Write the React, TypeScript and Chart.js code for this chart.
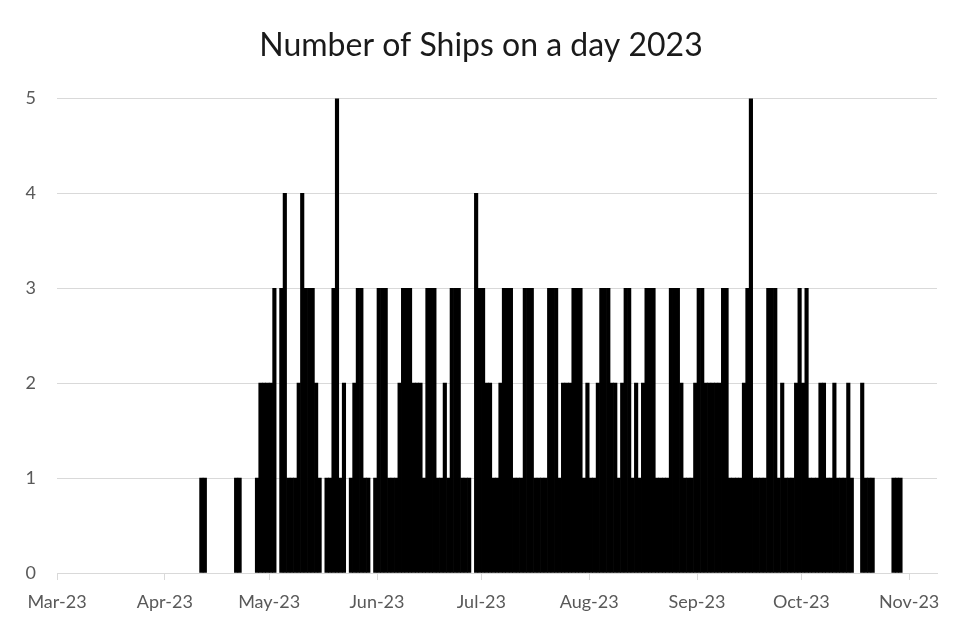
import React, { useEffect, useRef } from "react";
import { Chart, registerables } from "chart.js";

Chart.register(...registerables);

const chartTitle = "Number of Ships on a day 2023";
const axisStart = "2023-03-01";
const axisEnd = "2023-11-09";
const firstDate = "2023-04-11";

// Ships per day, one value per day starting at firstDate (2023-04-11 .. 2023-10-29)
const dailyShips = [
  1, 1, 0, 0, 0, 0, 0, 0, 0, 0,
  1, 1, 0, 0, 0, 0, 1, 2, 2, 2,
  2, 3, 0, 3, 4, 1, 1, 1, 2, 4,
  3, 3, 3, 2, 1, 0, 1, 1, 3, 5,
  1, 2, 0, 1, 2, 3, 3, 1, 1, 0,
  1, 3, 3, 3, 1, 1, 1, 2, 3, 3,
  3, 2, 2, 2, 1, 3, 3, 3, 1, 1,
  2, 1, 3, 3, 3, 1, 1, 1, 0, 4,
  3, 3, 2, 2, 1, 1, 2, 3, 3, 3,
  1, 1, 1, 3, 3, 3, 1, 1, 1, 1,
  3, 3, 3, 1, 2, 2, 2, 3, 3, 3,
  1, 2, 1, 1, 2, 3, 3, 3, 2, 2,
  1, 2, 3, 3, 1, 2, 1, 2, 3, 3,
  3, 1, 1, 1, 1, 3, 3, 3, 2, 1,
  1, 1, 2, 3, 3, 2, 2, 2, 2, 2,
  3, 3, 1, 1, 1, 1, 2, 3, 5, 1,
  1, 1, 1, 3, 3, 3, 1, 2, 1, 1,
  1, 2, 3, 2, 3, 1, 1, 1, 2, 2,
  1, 1, 2, 1, 1, 1, 2, 1, 0, 0,
  2, 1, 1, 1, 0, 0, 0, 0, 0, 1,
  1, 1,
];

const monthTickDates = [
  "2023-03-01", "2023-04-01", "2023-05-01", "2023-06-01", "2023-07-01",
  "2023-08-01", "2023-09-01", "2023-10-01", "2023-11-01",
];
const monthTickLabels = [
  "Mar-23", "Apr-23", "May-23", "Jun-23", "Jul-23",
  "Aug-23", "Sep-23", "Oct-23", "Nov-23",
];
const yTicks = [0, 1, 2, 3, 4, 5];

const dayIndex = (iso: string) =>
  Math.round(
    (Date.parse(iso + "T00:00:00Z") - Date.parse(axisStart + "T00:00:00Z")) / 86400000
  );

export default function App() {
  const ref = useRef<HTMLCanvasElement>(null);

  useEffect(() => {
    document.body.style.margin = "0";
    const canvas = ref.current;
    if (!canvas) return;
    const start = dayIndex(firstDate);
    const points = dailyShips.map((v, i) => ({ x: start + i + 0.5, y: v === 0 ? null : v }));
    const tickVals = monthTickDates.map(dayIndex);
    const font = { family: "Lato, 'Open Sans', sans-serif", size: 18 };

    const chart = new Chart(canvas, {
      type: "bar",
      data: {
        datasets: [
          {
            data: points as any,
            backgroundColor: "#000000",
            borderWidth: 0,
            barPercentage: 1,
            categoryPercentage: 1,
          },
        ],
      },
      options: {
        animation: false,
        responsive: false,
        layout: { padding: { left: 25, right: 17, top: 0, bottom: 0 } },
        plugins: {
          legend: { display: false },
          tooltip: { enabled: false },
          title: {
            display: true,
            text: chartTitle,
            color: "#1a1a1a",
            font: { family: "Lato, 'Open Sans', sans-serif", size: 32, weight: "normal" as any },
            padding: { top: 26, bottom: 34 },
          },
        },
        scales: {
          x: {
            type: "linear",
            min: 0,
            max: dayIndex(axisEnd),
            offset: false,
            afterBuildTicks: (s: any) => {
              s.ticks = tickVals.map((v) => ({ value: v }));
            },
            afterFit: (s: any) => {
              s.height = 53;
            },
            ticks: {
              autoSkip: false,
              maxRotation: 0,
              padding: 11,
              color: "#595959",
              font,
              callback: (v: any) => {
                const k = tickVals.indexOf(Number(v));
                return k >= 0 ? monthTickLabels[k] : "";
              },
            },
            grid: {
              display: true,
              drawOnChartArea: false,
              drawTicks: true,
              tickLength: 7,
              color: "#d9d9d9",
              offset: false,
            },
            border: { display: true, color: "#d9d9d9" },
          },
          y: {
            min: 0,
            max: 5,
            afterBuildTicks: (s: any) => {
              s.ticks = yTicks.map((v) => ({ value: v }));
            },
            afterFit: (s: any) => {
              s.width = 32;
            },
            ticks: { padding: 21, color: "#595959", font },
            grid: { color: "#d9d9d9", drawTicks: false },
            border: { display: false },
          },
        },
      },
    });
    return () => chart.destroy();
  }, []);

  return <canvas ref={ref} width={954} height={626} style={{ display: "block" }} />;
}
